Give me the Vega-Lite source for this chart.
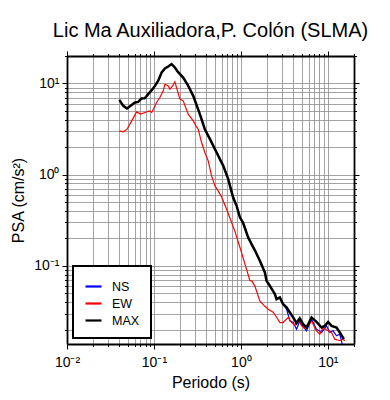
{
  "$schema": "https://vega.github.io/schema/vega-lite/v6.json",
  "width": 287,
  "height": 288,
  "padding": {"left": 10, "top": 20, "right": 5, "bottom": 5},
  "background": "white",
  "title": {"text": "Lic Ma Auxiliadora,P. Colón (SLMA)", "fontSize": 20, "font": "Liberation Sans", "fontWeight": "normal", "color": "black", "offset": 10},
  "config": {
    "font": "Liberation Sans",
    "view": {"stroke": null},
    "axis": {"labelFont": "Liberation Sans", "titleFont": "Liberation Sans", "labelColor": "black", "titleColor": "black", "tickColor": "black", "domainColor": "black", "titleFontWeight": "normal"}
  },
  "datasets": {
    "psa": [
      {"c":"MAX","T":0.04,"A":6.61},{"c":"MAX","T":0.0444,"A":5.68},{"c":"MAX","T":0.049,"A":5.32},{"c":"MAX","T":0.0539,"A":5.68},{"c":"MAX","T":0.0606,"A":6.19},{"c":"MAX","T":0.066,"A":6.28},{"c":"MAX","T":0.072,"A":6.85},{"c":"MAX","T":0.0789,"A":6.9},{"c":"MAX","T":0.0859,"A":7.63},{"c":"MAX","T":0.0942,"A":8.44},{"c":"MAX","T":0.1027,"A":9.4},{"c":"MAX","T":0.112,"A":10.7},{"c":"MAX","T":0.1227,"A":13.2},{"c":"MAX","T":0.1336,"A":14.6},{"c":"MAX","T":0.146,"A":15.35},{"c":"MAX","T":0.1595,"A":16.3},{"c":"MAX","T":0.174,"A":14.97},{"c":"MAX","T":0.1888,"A":13.4},{"c":"MAX","T":0.217,"A":11.6},{"c":"MAX","T":0.248,"A":9.4},{"c":"MAX","T":0.283,"A":7.31},{"c":"MAX","T":0.335,"A":4.7},{"c":"MAX","T":0.385,"A":3.15},{"c":"MAX","T":0.441,"A":2.45},{"c":"MAX","T":0.526,"A":1.75},{"c":"MAX","T":0.627,"A":1.249},{"c":"MAX","T":0.715,"A":0.893},{"c":"MAX","T":0.815,"A":0.562},{"c":"MAX","T":0.893,"A":0.455},{"c":"MAX","T":0.975,"A":0.34},{"c":"MAX","T":1.062,"A":0.295},{"c":"MAX","T":1.213,"A":0.205},{"c":"MAX","T":1.327,"A":0.173},{"c":"MAX","T":1.449,"A":0.148},{"c":"MAX","T":1.653,"A":0.1135},{"c":"MAX","T":1.888,"A":0.0847},{"c":"MAX","T":1.973,"A":0.0685},{"c":"MAX","T":2.155,"A":0.0603},{"c":"MAX","T":2.46,"A":0.049},{"c":"MAX","T":2.57,"A":0.0431},{"c":"MAX","T":2.81,"A":0.045},{"c":"MAX","T":3.06,"A":0.038},{"c":"MAX","T":3.35,"A":0.035},{"c":"MAX","T":3.66,"A":0.0308},{"c":"MAX","T":3.99,"A":0.0272},{"c":"MAX","T":4.37,"A":0.0235},{"c":"MAX","T":4.76,"A":0.0265},{"c":"MAX","T":5.2,"A":0.0229},{"c":"MAX","T":5.69,"A":0.0211},{"c":"MAX","T":6.5,"A":0.0272},{"c":"MAX","T":7.41,"A":0.0243},{"c":"MAX","T":8.47,"A":0.0211},{"c":"MAX","T":9.24,"A":0.022},{"c":"MAX","T":10.08,"A":0.0243},{"c":"MAX","T":11.03,"A":0.022},{"c":"MAX","T":12.59,"A":0.0211},{"c":"MAX","T":13.73,"A":0.0186},{"c":"MAX","T":15.3,"A":0.0157},

      {"c":"NS","T":0.04,"A":6.61},{"c":"NS","T":0.0444,"A":5.68},{"c":"NS","T":0.049,"A":5.32},{"c":"NS","T":0.0539,"A":5.68},{"c":"NS","T":0.0606,"A":6.19},{"c":"NS","T":0.066,"A":6.28},{"c":"NS","T":0.072,"A":6.85},{"c":"NS","T":0.0789,"A":6.9},{"c":"NS","T":0.0859,"A":7.63},{"c":"NS","T":0.0942,"A":8.44},{"c":"NS","T":0.1027,"A":9.4},{"c":"NS","T":0.112,"A":10.7},{"c":"NS","T":0.1227,"A":13.2},{"c":"NS","T":0.1336,"A":14.6},{"c":"NS","T":0.146,"A":15.35},{"c":"NS","T":0.1595,"A":16.3},{"c":"NS","T":0.174,"A":14.97},{"c":"NS","T":0.1888,"A":13.4},{"c":"NS","T":0.217,"A":11.6},{"c":"NS","T":0.248,"A":9.4},{"c":"NS","T":0.283,"A":7.31},{"c":"NS","T":0.335,"A":4.7},{"c":"NS","T":0.385,"A":3.15},{"c":"NS","T":0.441,"A":2.45},{"c":"NS","T":0.526,"A":1.75},{"c":"NS","T":0.627,"A":1.249},{"c":"NS","T":0.715,"A":0.893},{"c":"NS","T":0.815,"A":0.562},{"c":"NS","T":0.893,"A":0.455},{"c":"NS","T":0.975,"A":0.34},{"c":"NS","T":1.062,"A":0.295},{"c":"NS","T":1.213,"A":0.203},{"c":"NS","T":1.327,"A":0.17},{"c":"NS","T":1.449,"A":0.146},{"c":"NS","T":1.653,"A":0.112},{"c":"NS","T":1.888,"A":0.0847},{"c":"NS","T":1.973,"A":0.0685},{"c":"NS","T":2.155,"A":0.0603},{"c":"NS","T":2.46,"A":0.049},{"c":"NS","T":2.57,"A":0.0431},{"c":"NS","T":2.81,"A":0.045},{"c":"NS","T":3.06,"A":0.038},{"c":"NS","T":3.35,"A":0.0335},{"c":"NS","T":3.66,"A":0.0249},{"c":"NS","T":3.99,"A":0.0239},{"c":"NS","T":4.37,"A":0.0202},{"c":"NS","T":4.76,"A":0.0249},{"c":"NS","T":5.2,"A":0.0215},{"c":"NS","T":5.69,"A":0.0194},{"c":"NS","T":6.5,"A":0.026},{"c":"NS","T":7.41,"A":0.0202},{"c":"NS","T":8.47,"A":0.0186},{"c":"NS","T":9.66,"A":0.022},{"c":"NS","T":10.54,"A":0.0186},{"c":"NS","T":11.5,"A":0.0194},{"c":"NS","T":12.59,"A":0.0171},{"c":"NS","T":13.73,"A":0.0178},{"c":"NS","T":14.8,"A":0.0133},

      {"c":"EW","T":0.04,"A":3.02},{"c":"EW","T":0.0444,"A":2.95},{"c":"EW","T":0.049,"A":3.15},{"c":"EW","T":0.0555,"A":3.89},{"c":"EW","T":0.0632,"A":4.88},{"c":"EW","T":0.0703,"A":4.61},{"c":"EW","T":0.0789,"A":4.81},{"c":"EW","T":0.0883,"A":5.01},{"c":"EW","T":0.0942,"A":4.81},{"c":"EW","T":0.1074,"A":6.19},{"c":"EW","T":0.117,"A":7.02},{"c":"EW","T":0.128,"A":8.3},{"c":"EW","T":0.1336,"A":9.8},{"c":"EW","T":0.146,"A":9.4},{"c":"EW","T":0.1528,"A":8.66},{"c":"EW","T":0.164,"A":9.4},{"c":"EW","T":0.174,"A":10.4},{"c":"EW","T":0.199,"A":6.73},{"c":"EW","T":0.217,"A":6.45},{"c":"EW","T":0.248,"A":4.6},{"c":"EW","T":0.283,"A":3.89},{"c":"EW","T":0.304,"A":3.43},{"c":"EW","T":0.323,"A":3.15},{"c":"EW","T":0.353,"A":2.25},{"c":"EW","T":0.385,"A":1.75},{"c":"EW","T":0.421,"A":1.417},{"c":"EW","T":0.46,"A":0.97},{"c":"EW","T":0.502,"A":0.754},{"c":"EW","T":0.548,"A":0.664},{"c":"EW","T":0.6,"A":0.57},{"c":"EW","T":0.686,"A":0.4183},{"c":"EW","T":0.782,"A":0.299},{"c":"EW","T":0.85,"A":0.242},{"c":"EW","T":0.975,"A":0.16},{"c":"EW","T":1.112,"A":0.105},{"c":"EW","T":1.268,"A":0.069},{"c":"EW","T":1.34,"A":0.068},{"c":"EW","T":1.449,"A":0.06},{"c":"EW","T":1.653,"A":0.0413},{"c":"EW","T":1.888,"A":0.036},{"c":"EW","T":2.06,"A":0.0335},{"c":"EW","T":2.35,"A":0.031},{"c":"EW","T":2.57,"A":0.0275},{"c":"EW","T":2.81,"A":0.0239},{"c":"EW","T":3.06,"A":0.0239},{"c":"EW","T":3.5,"A":0.0272},{"c":"EW","T":3.83,"A":0.0239},{"c":"EW","T":4.18,"A":0.0224},{"c":"EW","T":4.56,"A":0.026},{"c":"EW","T":4.99,"A":0.022},{"c":"EW","T":5.44,"A":0.0206},{"c":"EW","T":5.94,"A":0.022},{"c":"EW","T":6.5,"A":0.0249},{"c":"EW","T":7.41,"A":0.0194},{"c":"EW","T":8.09,"A":0.0178},{"c":"EW","T":8.83,"A":0.0211},{"c":"EW","T":10.08,"A":0.0194},{"c":"EW","T":11.03,"A":0.0186},{"c":"EW","T":12.03,"A":0.0157},{"c":"EW","T":13.73,"A":0.0151},{"c":"EW","T":14.8,"A":0.0157},{"c":"EW","T":15.7,"A":0.0151}
    ]
  },
  "data": {"name": "psa"},
  "layer": [
    {
      "transform": [{"filter": "datum.c !== 'MAX'"}],
      "mark": {"type": "line", "clip": true, "strokeWidth": 1.2},
      "encoding": {
        "x": {"field": "T", "type": "quantitative", "scale": {"type": "log", "domain": [0.01, 20], "nice": false},
          "axis": {"orient": "bottom", "values": [0.01, 0.1, 1, 10], "labelExpr": "datum.value < 0.05 ? '10⁻²' : datum.value < 0.5 ? '10⁻¹' : datum.value < 5 ? '10⁰' : '10¹'", "grid": false, "tickSize": 5, "tickWidth": 1, "domainWidth": 1.8, "labelFontSize": 14, "labelPadding": 6, "labelFlush": false, "labelOverlap": false, "title": "Periodo (s)", "titleFontSize": 16, "titlePadding": 5}},
        "y": {"field": "A", "type": "quantitative", "scale": {"type": "log", "domain": [0.0139, 20], "nice": false},
          "axis": {"orient": "left", "values": [0.1, 1, 10], "labelExpr": "datum.value < 0.5 ? '10⁻¹' : datum.value < 5 ? '10⁰' : '10¹'", "grid": false, "tickSize": 5, "tickWidth": 1, "domainWidth": 1.8, "labelFontSize": 14, "labelPadding": 3, "labelFlush": false, "labelOverlap": false, "title": "PSA (cm/s²)", "titleFontSize": 16, "titlePadding": 7}},
        "color": {"field": "c", "type": "nominal", "scale": {"domain": ["NS", "EW", "MAX"], "range": ["#0000ff", "#ff0000", "#000000"]},
          "legend": {"orient": "none", "legendX": 6, "legendY": 210, "title": null, "fillColor": "white", "strokeColor": "black", "padding": 11, "symbolType": "stroke", "symbolSize": 256, "symbolStrokeWidth": 2.2, "labelFontSize": 12.5, "labelFont": "Liberation Sans", "labelColor": "black", "labelOffset": 9, "rowPadding": 1, "labelExpr": "datum.label + '    '", "encode": {"legend": {"update": {"strokeWidth": {"value": 2}}}}}}
      }
    },
    {
      "transform": [{"filter": "datum.c === 'MAX'"}],
      "mark": {"type": "line", "clip": true, "strokeWidth": 2.5},
      "encoding": {
        "x": {"field": "T", "type": "quantitative", "scale": {"type": "log", "domain": [0.01, 20], "nice": false},
          "axis": {"orient": "bottom", "values": [0.02,0.03,0.04,0.05,0.06,0.07,0.08,0.09,0.2,0.3,0.4,0.5,0.6,0.7,0.8,0.9,2,3,4,5,6,7,8,9,20,0.1,1,10], "labels": false, "grid": true, "gridColor": "#8c8c8c", "gridWidth": 0.8, "tickSize": 2.5, "tickWidth": 1, "domain": false, "title": null}},
        "y": {"field": "A", "type": "quantitative", "scale": {"type": "log", "domain": [0.0139, 20], "nice": false},
          "axis": {"orient": "left", "values": [0.02,0.03,0.04,0.05,0.06,0.07,0.08,0.09,0.2,0.3,0.4,0.5,0.6,0.7,0.8,0.9,2,3,4,5,6,7,8,9,20,0.1,1,10], "labels": false, "grid": true, "gridColor": "#8c8c8c", "gridWidth": 0.8, "tickSize": 2.5, "tickWidth": 1, "domain": false, "title": null}},
        "color": {"field": "c", "type": "nominal", "scale": {"domain": ["NS", "EW", "MAX"], "range": ["#0000ff", "#ff0000", "#000000"]},
          "legend": {"orient": "none", "legendX": 6, "legendY": 210, "title": null, "fillColor": "white", "strokeColor": "black", "padding": 11, "symbolType": "stroke", "symbolSize": 256, "symbolStrokeWidth": 2.2, "labelFontSize": 12.5, "labelFont": "Liberation Sans", "labelColor": "black", "labelOffset": 9, "rowPadding": 1, "labelExpr": "datum.label + '    '", "encode": {"legend": {"update": {"strokeWidth": {"value": 2}}}}}}
      }
    },
    {
      "transform": [{"filter": "datum.c === 'MAX'"}],
      "mark": {"type": "point", "opacity": 0},
      "encoding": {
        "x": {"field": "T", "type": "quantitative", "scale": {"type": "log", "domain": [0.01, 20], "nice": false},
          "axis": {"orient": "top", "values": [0.01, 0.1, 1, 10], "labels": false, "grid": false, "tickSize": 5, "tickWidth": 1, "domainWidth": 1.8, "title": null}},
        "y": {"field": "A", "type": "quantitative", "scale": {"type": "log", "domain": [0.0139, 20], "nice": false},
          "axis": {"orient": "right", "values": [0.1, 1, 10], "labels": false, "grid": false, "tickSize": 5, "tickWidth": 1, "domainWidth": 1.8, "title": null}}
      }
    },
    {
      "transform": [{"filter": "datum.c === 'MAX'"}],
      "mark": {"type": "point", "opacity": 0},
      "encoding": {
        "x": {"field": "T", "type": "quantitative", "scale": {"type": "log", "domain": [0.01, 20], "nice": false},
          "axis": {"orient": "top", "values": [0.02,0.03,0.04,0.05,0.06,0.07,0.08,0.09,0.2,0.3,0.4,0.5,0.6,0.7,0.8,0.9,2,3,4,5,6,7,8,9,20], "labels": false, "grid": false, "tickSize": 2.5, "tickWidth": 1, "domain": false, "title": null}},
        "y": {"field": "A", "type": "quantitative", "scale": {"type": "log", "domain": [0.0139, 20], "nice": false},
          "axis": {"orient": "right", "values": [0.02,0.03,0.04,0.05,0.06,0.07,0.08,0.09,0.2,0.3,0.4,0.5,0.6,0.7,0.8,0.9,2,3,4,5,6,7,8,9,20], "labels": false, "grid": false, "tickSize": 2.5, "tickWidth": 1, "domain": false, "title": null}}
      }
    }
  ],
  "resolve": {"axis": {"x": "independent", "y": "independent"}}
}
